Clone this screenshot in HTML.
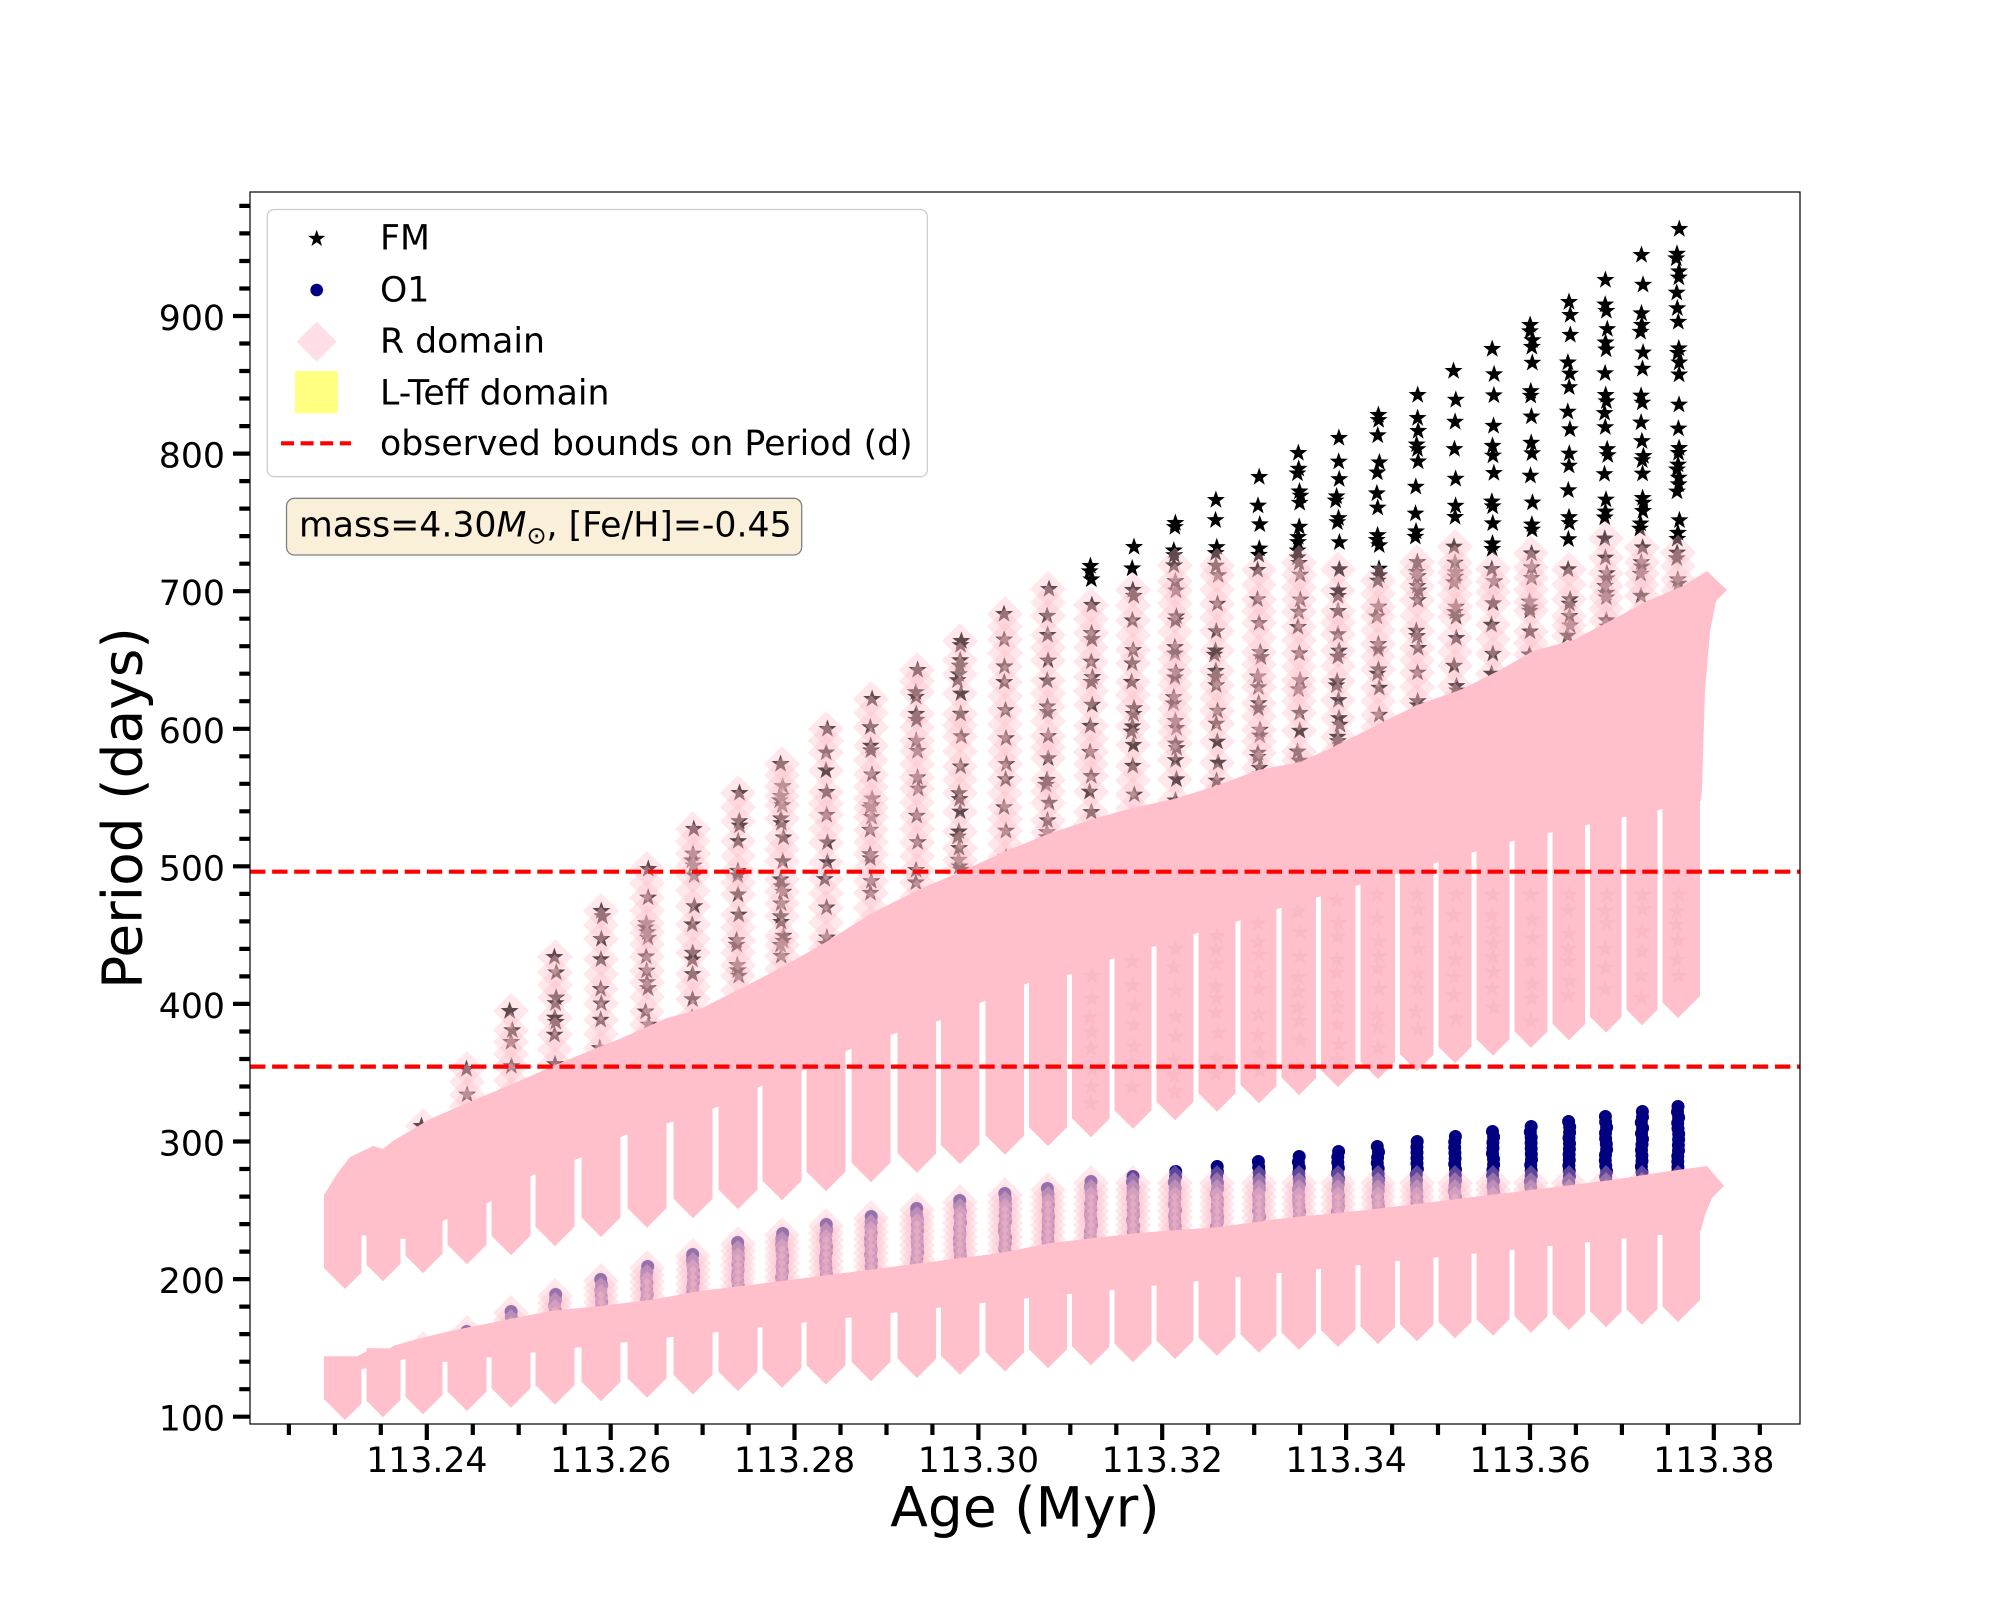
<!DOCTYPE html>
<html><head><meta charset="utf-8"><title>Period vs Age</title>
<style>
html,body{margin:0;padding:0;background:#fff;width:2000px;height:1600px;overflow:hidden;}
svg{display:block;}
text{font-family:"DejaVu Sans","Liberation Sans",sans-serif;fill:#000;}
</style></head><body>
<svg xmlns="http://www.w3.org/2000/svg" width="2000" height="1600" viewBox="0 0 2000 1600">
<rect x="0" y="0" width="2000" height="1600" fill="#fff"/>
<defs><clipPath id="ax"><rect x="250" y="192" width="1550" height="1232"/></clipPath></defs>
<g id="data" clip-path="url(#ax)"></g>
<g clip-path="url(#ax)">
<line x1="250" y1="871.7" x2="1800" y2="871.7" stroke="#ff0000" stroke-width="4.2" stroke-dasharray="15.4 6.7"/>
<line x1="250" y1="1066.6" x2="1800" y2="1066.6" stroke="#ff0000" stroke-width="4.2" stroke-dasharray="15.4 6.7"/>
</g>
<rect x="250" y="192" width="1550" height="1232" fill="none" stroke="#000" stroke-width="1.2"/>
<path id="ticks" d="" stroke="#000" stroke-width="4.2" fill="none"/>

<g font-size="34.7" text-anchor="end">
<text x="225" y="1430.7">100</text>
<text x="225" y="1293.1">200</text>
<text x="225" y="1155.5">300</text>
<text x="225" y="1017.9">400</text>
<text x="225" y="880.3">500</text>
<text x="225" y="742.8">600</text>
<text x="225" y="605.2">700</text>
<text x="225" y="467.6">800</text>
<text x="225" y="330.0">900</text>
</g>
<g font-size="34.7" text-anchor="middle">
<text x="426.8" y="1472">113.24</text>
<text x="610.7" y="1472">113.26</text>
<text x="794.5" y="1472">113.28</text>
<text x="978.4" y="1472">113.30</text>
<text x="1162.3" y="1472">113.32</text>
<text x="1346.1" y="1472">113.34</text>
<text x="1530.0" y="1472">113.36</text>
<text x="1713.8" y="1472">113.38</text>
</g>
<text x="1025" y="1526.7" font-size="55" text-anchor="middle">Age (Myr)</text>
<text transform="translate(141.7,808) rotate(-90)" font-size="55" text-anchor="middle">Period (days)</text>

<!-- legend -->
<rect x="267.3" y="209.5" width="660" height="267.2" rx="7" ry="7" fill="#ffffff" fill-opacity="0.8" stroke="#cccccc" stroke-width="1.3"/>
<path id="lstar" d="" fill="#000"/>
<circle cx="316.7" cy="290" r="6.3" fill="#000080"/>
<path d="M316.7 321.7L336.7 341.7L316.7 361.7L296.7 341.7Z" fill="#ffdfe5"/>
<rect x="295" y="371" width="42.7" height="42.3" fill="#ffff80"/>
<line x1="281" y1="443.3" x2="351" y2="443.3" stroke="#ff0000" stroke-width="4.2" stroke-dasharray="13 6.6"/>
<g font-size="34.7">
<text x="380" y="249.3">FM</text>
<text x="380" y="301.7">O1</text>
<text x="380" y="352.7">R domain</text>
<text x="380" y="404.3">L-Teff domain</text>
<text x="380" y="455">observed bounds on Period (d)</text>
</g>

<!-- text box -->
<rect x="286.5" y="498.3" width="515.2" height="56.7" rx="8" ry="8" fill="#faefd9" stroke="#808080" stroke-width="1.3"/>
<text x="299" y="536.7" font-size="34.7">mass=4.30<tspan font-style="italic">M</tspan><tspan font-size="24" dy="7">⊙</tspan><tspan dy="-7">, [Fe/H]=-0.45</tspan></text>
</svg>

<script>
(function(){
function interp(P,x){if(x<=P[0][0])return P[0][1];for(var k=1;k<P.length;k++){if(x<=P[k][0]){var a=P[k-1],b=P[k];return a[1]+(b[1]-a[1])*(x-a[0])/(b[0]-a[0]);}}return P[P.length-1][1];}
var seed=7;function rnd(){seed=(seed*16807)%2147483647;return seed/2147483647;}
function star(cx,cy,r){var p='';for(var k=0;k<10;k++){var a=-Math.PI/2+k*Math.PI/5;var rr=(k%2)?r*0.40:r;p+=(k?'L':'M')+(cx+rr*Math.cos(a)).toFixed(1)+' '+(cy+rr*Math.sin(a)).toFixed(1);}return p+'Z';}

var X=[345,383,423,467,511,555,601,647,693,738,782,826,871,917,960,1005,1048,1091,1133,1175,1217,1259,1299,1338,1378,1417,1455,1493,1531,1569,1606,1642,1678];
var ST=[0,0,1117,1060,1002,948,902,860,820,784,755,720,690,661,632,605,580,557,538,514,491,468,444,429,406,386,362,340,316,293,271,246,220];
var DT17=[577,561,542,542,548,542,548,559,532,529,532,521,529,513,510,529];
var DOT=[0,0,1341,1325,1305,1288,1273,1260,1248,1236,1227,1218,1210,1202,1194,1187,1182,1175,1170,1165,1160,1155,1150,1145,1140,1135,1130,1125,1120,1115,1110,1105,1100];

var UP=[[324,1195],[337,1174],[350,1157],[373,1146],[383,1149],[393,1141],[430,1119],[467,1103],[517,1082],[567,1060],[617,1040],[667,1018],[700,1009],[738,990],[784,966],[826,942],[872,913],[918,890],[960,872],[1006,851],[1048,834],[1090,820],[1132,808],[1174,799],[1216,786],[1258,770],[1300,762],[1333,747],[1417,705],[1460,690],[1500,670],[1533,651],[1573,640],[1610,621],[1647,601],[1683,586],[1707,571]];
var UCAP=[[1727,590],[1716,601],[1710,632],[1705,690],[1702,790],[1701,800]];
var GU=[[324,1240],[363,1234],[405,1238],[447,1218],[490,1201],[533,1174],[580,1157],[625,1134],[672,1121],[718,1106],[761,1085],[807,1068],[853,1047],[899,1031],[945,1018],[989,998],[1031,981],[1073,973],[1117,956],[1159,944],[1201,931],[1241,919],[1284,906],[1400,872],[1520,838],[1701,800]];

var LP=[[324,1385],[340,1365],[373,1348],[383,1355],[393,1346],[410,1341],[450,1331],[500,1321],[550,1311],[600,1306],[650,1300],[700,1291],[750,1285],[1000,1253],[1051,1243],[1138,1233],[1219,1227],[1286,1218],[1367,1210],[1449,1200],[1531,1190],[1612,1180],[1663,1172],[1707,1166]];
var LCAP=[[1724,1186],[1712,1198],[1705,1215],[1701,1230]];
var GL=[[324,1375],[363,1368],[405,1358],[447,1361],[718,1331],[1000,1300],[1300,1270],[1650,1235],[1701,1230]];

function ubot(x){return 1289-0.2033*(x-345);}
function lbot(x){return 1420-0.0735*(x-345);}

var out='';
var PINK='#ffc0cb';

/* FM stars */
var sp='';var cols=[];
for(var i=2;i<X.length;i++){
  var yEnd=interp(UP,X[i])+30;var y=ST[i]+9;var list=[];
  while(y<yEnd){var x=X[i]+(rnd()-0.5)*3;list.push(y);sp+=star(x,y,9.5);
    if(rnd()<0.3){sp+=star(x+(rnd()-0.5)*2.5,y+4+rnd()*3,9.5);}
    y+=9+rnd()*22;}
  cols.push([i,list]);
}
out+='<path d="'+sp+'" fill="#000"/>';

/* O1 dots */
for(var i=2;i<X.length;i++){
  var yEnd=interp(LP,X[i])+20;
  for(var y=DOT[i]+6.5;y<yEnd;y+=5.5){
    out+='<circle cx="'+(X[i]+(rnd()-0.5)*1.5).toFixed(1)+'" cy="'+y.toFixed(1)+'" r="6.5" fill="#000080"/>';
  }
}

/* solid pink bands */
function band(TOP,CAP,GAP){
  var pts=[];
  for(var k=0;k<TOP.length;k++)pts.push(TOP[k][0]+','+TOP[k][1]);
  for(var k=0;k<CAP.length;k++)pts.push(CAP[k][0]+','+CAP[k][1]);
  for(var x=1701;x>=324;x-=4)pts.push(x+','+(interp(GAP,x)+1).toFixed(1));
  pts.push('324,'+interp(GAP,324));
  out+='<polygon points="'+pts.join(' ')+'" fill="'+PINK+'"/>';
}
function bars(GAP,botf){
  var n=X.length;
  for(var i=0;i<n;i++){
    var x=X[i];
    var hl=(i===0)?21:Math.min(19.5,(x-X[i-1]-5)/2);
    var hr=(i===n-1)?22:Math.min(19.5,(X[i+1]-x-5)/2);
    var top=interp(GAP,x)-15;var yb=botf(x);
    out+='<polygon points="'+(x-hl).toFixed(1)+','+top.toFixed(1)+' '+(x+hr).toFixed(1)+','+top.toFixed(1)+' '+(x+hr).toFixed(1)+','+(yb-hr).toFixed(1)+' '+x+','+yb.toFixed(1)+' '+(x-hl).toFixed(1)+','+(yb-hl).toFixed(1)+'" fill="'+PINK+'"/>';
  }
}
band(UP,UCAP,GU);
bars(GU,ubot);
band(LP,LCAP,GL);
bars(GL,lbot);

/* faint stars showing through lower parts of the right upper pendants */
var fs='';
for(var i=17;i<X.length;i++){
  var y0=Math.max(interp(GU,X[i])+10,895), y1=ubot(X[i])-24;
  for(var y=y0;y<y1;y+=12+rnd()*14){fs+=star(X[i]+(rnd()-0.5)*3,y,9.5);}
}
out+='<path d="'+fs+'" fill="#7a4a55" fill-opacity="0.05"/>';

/* R-domain diamonds above solid (upper band) */
function dia(x,y,h,op){return '<path d="M'+x+' '+(y-h).toFixed(1)+'L'+(x+h)+' '+y.toFixed(1)+'L'+x+' '+(y+h).toFixed(1)+'L'+(x-h)+' '+y.toFixed(1)+'Z" fill="'+PINK+'" fill-opacity="'+op+'"/>';}
for(var c=0;c<cols.length;c++){
  var i=cols[c][0],list=cols[c][1];
  var dtop=(i<=16)?(ST[i]-12):DT17[i-17];
  var prev=null;
  for(var k=0;k<list.length;k++){
    if(list[k]-18>=dtop-2){
      if(prev!==null && list[k]-prev>22){out+=dia(X[i],(list[k]+prev)/2,18,0.36);}
      out+=dia(X[i],list[k],18,0.38);prev=list[k];
    }
  }
}
/* R-domain diamonds (lower band) */
for(var i=2;i<X.length;i++){
  var dtl=Math.max(DOT[i]-10,1165);
  var yEnd=interp(LP,X[i])+20;
  for(var y=dtl+18;y<yEnd;y+=7){out+=dia(X[i],y,18,0.36);}
}
document.getElementById('data').innerHTML=out;

/* ticks */
var t='';
for(var P=100;P<=980;P+=20){var y=1416.7-(P-100)*1.37588;var major=(P%100===0);t+='M'+(major?233:239.3)+' '+y.toFixed(1)+'H250';}
for(var k=-3;k<=29;k++){var x=426.8+k*45.965;if(x<250||x>1800)continue;var major=(((k%4)+4)%4===0);t+='M'+x.toFixed(1)+' 1424V'+(major?1440:1435);}
document.getElementById('ticks').setAttribute('d',t);
document.getElementById('lstar').setAttribute('d',star(316.7,238.7,9));
})();
</script>
</body></html>
